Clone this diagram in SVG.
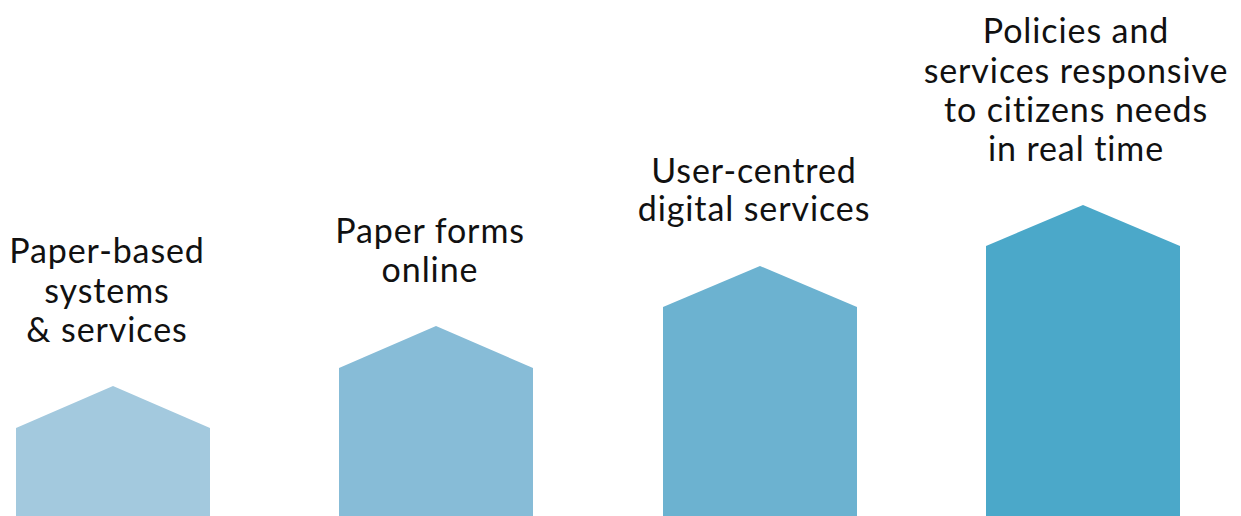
<svg xmlns="http://www.w3.org/2000/svg" width="1241" height="516" viewBox="0 0 1241 516">
<style>
text{font-family:Lato,"Noto Sans",sans-serif;font-size:34px;letter-spacing:0.9px;fill:#111;text-anchor:middle}
</style>
<rect width="1241" height="516" fill="#fff"/>
<g id="stage1">
<polygon points="16,428 113,386 210,428 210,516 16,516" fill="#a3c9de"/>
<text x="107" y="263">Paper-based</text>
<text x="107" y="303">systems</text>
<text x="107" y="342">&amp; services</text>
</g>
<g id="stage2">
<polygon points="339,368 436,326 533,368 533,516 339,516" fill="#87bcd7"/>
<text x="430" y="243">Paper forms</text>
<text x="430" y="282">online</text>
</g>
<g id="stage3">
<polygon points="663,307 760,266 857,307 857,516 663,516" fill="#6cb2d0"/>
<text x="754" y="183">User-centred</text>
<text x="754" y="221">digital services</text>
</g>
<g id="stage4">
<polygon points="986,246 1083,205 1180,246 1180,516 986,516" fill="#4ba8c9"/>
<text x="1076" y="43">Policies and</text>
<text x="1076" y="83">services responsive</text>
<text x="1076" y="122">to citizens needs</text>
<text x="1076" y="161">in real time</text>
</g>
<g id="connectors"/>
</svg>
